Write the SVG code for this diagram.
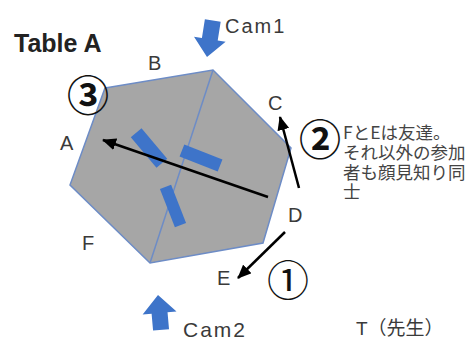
<svg xmlns="http://www.w3.org/2000/svg" width="468" height="340" viewBox="0 0 468 340">
<style>
.lbl{font-family:"Liberation Sans","Noto Sans CJK JP",sans-serif;fill:#3a3a3a;font-size:20px}
.jp{font-family:"Noto Sans CJK JP",sans-serif;fill:#444;font-size:17.5px}
.circ{font-family:"Noto Sans CJK JP",sans-serif;fill:#111;font-size:42px;text-anchor:middle}
.seat{fill:#3e74c9}
.cam{fill:#3e74c9}
.conn{stroke:#000;stroke-width:2.5;fill:none;marker-end:url(#ah)}
</style>
<defs>
<marker id="ah" markerUnits="userSpaceOnUse" markerWidth="14" markerHeight="12" refX="13" refY="6" orient="auto">
<path d="M0,0 L14,6 L0,12 Z" fill="#000"/>
</marker>
</defs>
<rect width="468" height="340" fill="#fff"/>
<g id="title"><text x="14" y="52" style="font-family:'Liberation Sans',sans-serif;font-weight:bold;font-size:25px;fill:#222">Table A</text></g>
<g id="table">
<polygon points="105,88 213,70 291,148 263,243 150,263 70,185" fill="#a6a6a6" stroke="#6d8cc6" stroke-width="1.5"/>
<line x1="213" y1="70" x2="150" y2="263" stroke="#6d8cc6" stroke-width="1.5"/>
</g>
<g id="seats">
<rect class="seat" x="-20" y="-7" width="40" height="14" transform="translate(149,148) rotate(50)"/>
<rect class="seat" x="-20.5" y="-6.5" width="41" height="13" transform="translate(201,158) rotate(21.5)"/>
<rect class="seat" x="-20.5" y="-6" width="41" height="12" transform="translate(173,206) rotate(68.6)"/>
</g>
<g id="cam1">
<path class="cam" d="M0,0 L-16,-18 L-8,-18 L-8,-37 L8,-37 L8,-18 L16,-18 Z" transform="translate(207,57) rotate(9)"/>
<text class="lbl" x="225" y="33" letter-spacing="2">Cam1</text>
</g>
<g id="cam2">
<path class="cam" d="M0,0 L-17,18 L-8,18 L-8,35 L8,35 L8,18 L17,18 Z" transform="translate(158,295) rotate(-5)"/>
<text class="lbl" x="183" y="337" style="font-size:21px" letter-spacing="2">Cam2</text>
</g>
<g id="labels">
<text class="lbl" x="148" y="70">B</text>
<text class="lbl" x="268" y="110">C</text>
<text class="lbl" x="60" y="150">A</text>
<text class="lbl" x="82" y="250">F</text>
<text class="lbl" x="217" y="285">E</text>
<text class="lbl" x="288" y="222">D</text>
<text class="lbl" x="356" y="335" style="font-size:19px">T（先生）</text>
</g>
<g id="note">
<text class="jp" x="343" y="139">FとEは友達。</text>
<text class="jp" x="343" y="159">それ以外の参加</text>
<text class="jp" x="343" y="179">者も顔見知り同</text>
<text class="jp" x="343" y="198">士</text>
</g>
<g id="connectors">
<line class="conn" x1="268" y1="197" x2="103" y2="140"/>
<line class="conn" x1="299" y1="188" x2="280" y2="117"/>
<line class="conn" x1="285" y1="232" x2="238" y2="278"/>
</g>
<g id="steps">
<text class="circ" x="288" y="296">①</text>
<text class="circ" x="320" y="155" font-weight="bold">②</text>
<text class="circ" x="88" y="111" font-weight="bold">③</text>
</g>
</svg>
